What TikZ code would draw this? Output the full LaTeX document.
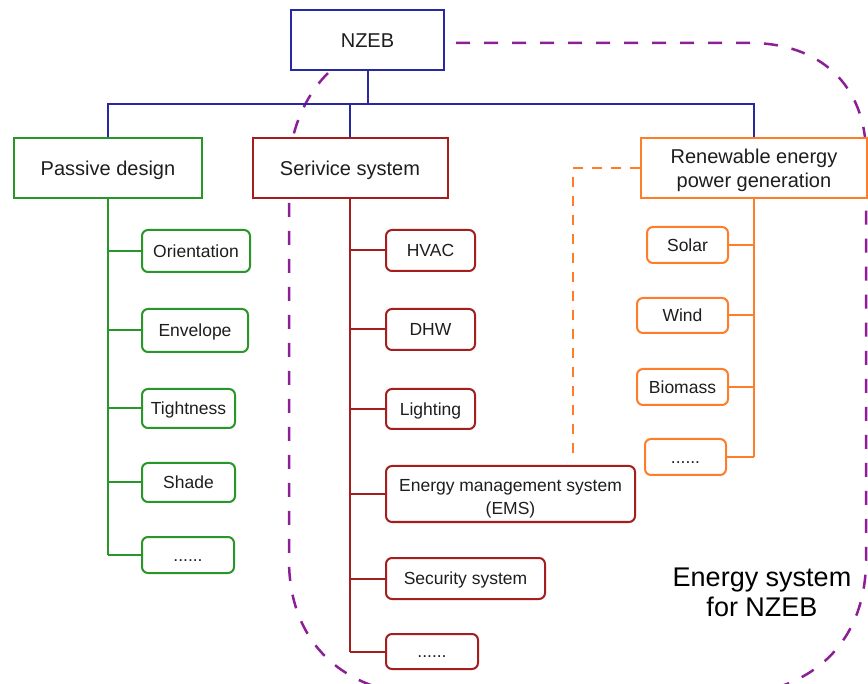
\documentclass[tikz,border=0pt]{standalone}
\usepackage{fontspec}
\setmainfont{Liberation Sans}
\definecolor{cblue}{RGB}{40,40,160}
\definecolor{cgreen}{RGB}{40,150,40}
\definecolor{cred}{RGB}{165,30,30}
\definecolor{corange}{RGB}{255,125,40}
\definecolor{cpurple}{RGB}{140,30,150}
\definecolor{ctext}{RGB}{30,30,30}
\begin{document}
\begin{tikzpicture}[x=1pt,y=-1pt,
 hdr/.style={draw, line width=2pt, fill=white, inner sep=0pt, align=center, text=ctext, font=\fontsize{20}{24}\selectfont, text height=14.4pt, text depth=0pt},
 hdrtwo/.style={hdr, text height=38.4pt, text depth=0pt},
 leaf/.style={draw, line width=2pt, fill=white, rounded corners=6pt, inner sep=0pt, align=center, text=ctext, font=\fontsize{17.5}{23}\selectfont, text height=12.6pt, text depth=0pt},
 leaftwo/.style={leaf, text height=40.6pt, text depth=0pt},
 link/.style={line width=2pt},
 region/.style={draw=cpurple, line width=2.5pt, dash pattern=on 14pt off 14pt},
 hint/.style={draw=corange, line width=2pt, dash pattern=on 10pt off 9pt},
]
\useasboundingbox (0,0) rectangle (868,684);

% enclosing dashed region
\draw[region] (400,43) -- (750,43) .. controls (820,43) and (866,85) .. (866,155)
  -- (866,560) .. controls (866,640) and (815,690) .. (735,695)
  -- (420,695) .. controls (340,690) and (289,640) .. (289,560)
  -- (289,170) .. controls (289,110) and (330,43) .. (400,43) -- cycle;

% top level
\node[hdr, draw=cblue, minimum width=153pt, minimum height=60pt] (nzeb) at (367.5,40) {NZEB};
\coordinate (bus) at (368,104);

% second level
\node[hdr, draw=cgreen, minimum width=188pt, minimum height=60pt] (pd) at (108,168) {Passive design};
\node[hdr, draw=cred, minimum width=195pt, minimum height=60pt] (ss) at (350,168) {Serivice system};
\node[hdrtwo, draw=corange, minimum width=226pt, minimum height=60pt] (ren) at (754,168) {Renewable energy\\power generation};

\draw[link, cblue] (nzeb.south) -- (nzeb.south |- bus);
\draw[link, cblue] (pd.north) |- (bus) -| (ren.north);
\draw[link, cblue] (ss.north) -- (ss.north |- bus);

% passive design leaves
\node[leaf, draw=cgreen, anchor=west, minimum width=108pt, minimum height=42pt] (p1) at (141,251) {Orientation};
\node[leaf, draw=cgreen, anchor=west, minimum width=106pt, minimum height=43pt] (p2) at (141,330.5) {Envelope};
\node[leaf, draw=cgreen, anchor=west, minimum width=93pt, minimum height=39pt] (p3) at (141,408.5) {Tightness};
\node[leaf, draw=cgreen, anchor=west, minimum width=93pt, minimum height=39pt] (p4) at (141,482.5) {Shade};
\node[leaf, draw=cgreen, anchor=west, minimum width=92pt, minimum height=36pt] (p5) at (141,555) {......};
\draw[link, cgreen] (pd.south) -- (pd.south |- p5.west);
\foreach \n in {p1,p2,p3,p4,p5} \draw[link, cgreen] (pd.south |- \n.west) -- (\n.west);

% service system leaves
\node[leaf, draw=cred, anchor=west, minimum width=89pt, minimum height=41pt] (s1) at (385,250.5) {HVAC};
\node[leaf, draw=cred, anchor=west, minimum width=89pt, minimum height=41pt] (s2) at (385,329.5) {DHW};
\node[leaf, draw=cred, anchor=west, minimum width=89pt, minimum height=40pt] (s3) at (385,409) {Lighting};
\node[leaftwo, draw=cred, anchor=west, minimum width=249pt, minimum height=56pt] (s4) at (385,494) {Energy management system\\(EMS)};
\node[leaf, draw=cred, anchor=west, minimum width=159pt, minimum height=41pt] (s5) at (385,578.5) {Security system};
\node[leaf, draw=cred, anchor=west, minimum width=92pt, minimum height=35pt] (s6) at (385,651.5) {......};
\draw[link, cred] (ss.south) -- (ss.south |- s6.west);
\foreach \n in {s1,s2,s3,s4,s5,s6} \draw[link, cred] (ss.south |- \n.west) -- (\n.west);

% renewable leaves
\node[leaf, draw=corange, anchor=east, minimum width=81pt, minimum height=36pt] (r1) at (729,245) {Solar};
\node[leaf, draw=corange, anchor=east, minimum width=91pt, minimum height=35pt] (r2) at (729,315.5) {Wind};
\node[leaf, draw=corange, anchor=east, minimum width=91pt, minimum height=36pt] (r3) at (729,387) {Biomass};
\node[leaf, draw=corange, anchor=east, minimum width=81pt, minimum height=36pt] (r4) at (727,457) {......};
\draw[link, corange] (ren.south) -- (ren.south |- r4.east);
\foreach \n in {r1,r2,r3,r4} \draw[link, corange] (ren.south |- \n.east) -- (\n.east);

% dashed hint from renewable
\coordinate (oend) at (573,457);
\draw[hint] (ren.west) -| (oend);

% label
\node[font=\fontsize{27}{30}\selectfont, align=center, text=black] (lbl) at (762,592) {Energy system\\for NZEB};
\end{tikzpicture}
\end{document}
